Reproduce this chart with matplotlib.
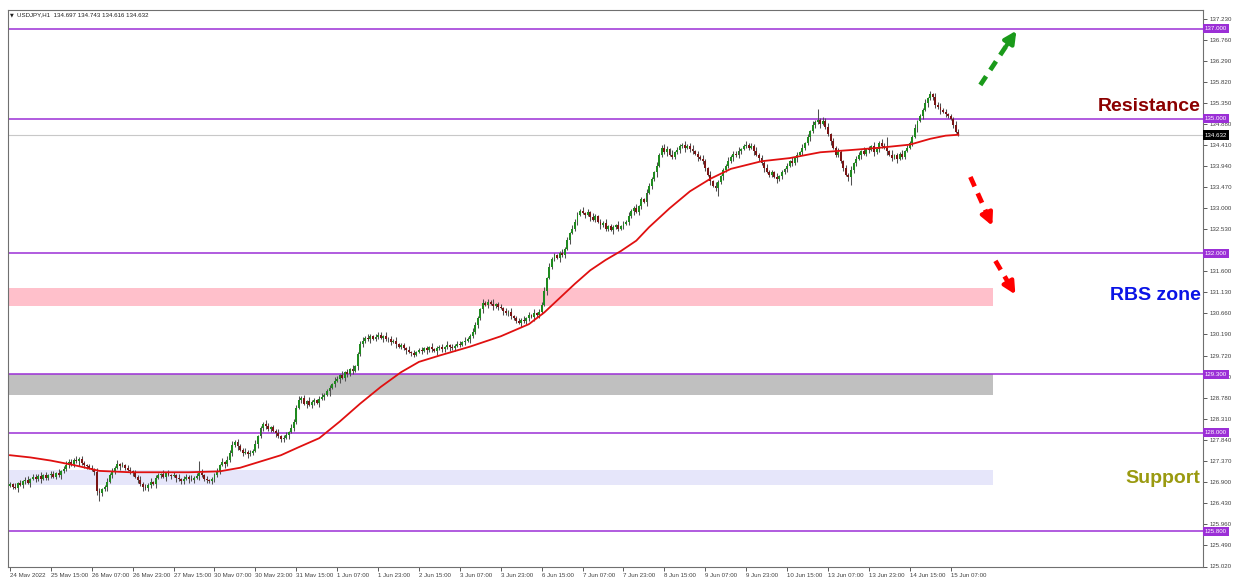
import matplotlib
matplotlib.use("Agg")
import matplotlib.pyplot as plt
import numpy as np

# hourly USDJPY closes, one row per 16 bars (one row per date label)
first_open = 126.82
close_rows = [
    [126.85, 126.80, 126.78, 126.88, 126.84, 126.92, 126.95, 126.88, 126.97, 127.02, 126.96, 127.04, 126.98, 127.06, 127.00, 127.05],
    [127.08, 127.02, 127.10, 127.05, 127.14, 127.20, 127.28, 127.35, 127.30, 127.40, 127.36, 127.42, 127.32, 127.28, 127.25, 127.22],
    [127.18, 127.12, 126.70, 126.65, 126.74, 126.80, 126.90, 127.05, 127.15, 127.22, 127.30, 127.26, 127.28, 127.22, 127.18, 127.15],
    [127.10, 127.02, 126.95, 126.85, 126.80, 126.76, 126.84, 126.90, 126.86, 127.00, 127.05, 127.08, 127.02, 127.10, 127.06, 127.04],
    [127.06, 127.00, 126.96, 126.92, 126.98, 127.02, 126.97, 126.95, 127.00, 127.04, 127.10, 127.05, 126.98, 126.94, 126.92, 126.96],
    [127.05, 127.15, 127.28, 127.35, 127.30, 127.40, 127.55, 127.72, 127.80, 127.70, 127.62, 127.55, 127.58, 127.52, 127.56, 127.60],
    [127.75, 127.92, 128.10, 128.20, 128.15, 128.08, 128.12, 128.05, 128.00, 127.92, 127.85, 127.88, 127.95, 128.02, 128.10, 128.25],
    [128.55, 128.72, 128.78, 128.65, 128.70, 128.62, 128.68, 128.72, 128.66, 128.75, 128.80, 128.85, 128.92, 129.00, 129.08, 129.15],
    [129.20, 129.28, 129.22, 129.35, 129.30, 129.42, 129.38, 129.48, 129.75, 129.98, 130.05, 130.12, 130.08, 130.15, 130.10, 130.14],
    [130.18, 130.12, 130.15, 130.08, 130.10, 130.02, 130.05, 129.98, 129.92, 129.95, 129.88, 129.85, 129.80, 129.78, 129.74, 129.80],
    [129.85, 129.82, 129.88, 129.84, 129.90, 129.86, 129.82, 129.88, 129.92, 129.86, 129.90, 129.95, 129.92, 129.88, 129.94, 129.98],
    [129.96, 130.02, 130.05, 130.10, 130.15, 130.25, 130.40, 130.55, 130.75, 130.90, 130.85, 130.92, 130.88, 130.82, 130.86, 130.80],
    [130.78, 130.72, 130.66, 130.70, 130.60, 130.55, 130.50, 130.45, 130.52, 130.48, 130.55, 130.62, 130.58, 130.66, 130.62, 130.70],
    [130.85, 131.15, 131.45, 131.70, 131.88, 131.95, 131.90, 132.00, 131.95, 132.10, 132.30, 132.45, 132.55, 132.70, 132.85, 132.95],
    [132.90, 132.85, 132.92, 132.80, 132.75, 132.82, 132.70, 132.62, 132.68, 132.55, 132.60, 132.52, 132.58, 132.62, 132.55, 132.60],
    [132.65, 132.70, 132.82, 132.95, 133.00, 132.92, 133.05, 133.20, 133.15, 133.35, 133.50, 133.65, 133.80, 133.95, 134.20, 134.35],
    [134.25, 134.32, 134.20, 134.15, 134.25, 134.30, 134.38, 134.42, 134.35, 134.40, 134.32, 134.28, 134.22, 134.15, 134.10, 134.05],
    [133.90, 133.75, 133.60, 133.50, 133.45, 133.58, 133.72, 133.85, 133.95, 134.05, 134.15, 134.22, 134.18, 134.28, 134.32, 134.38],
    [134.42, 134.35, 134.40, 134.28, 134.20, 134.12, 134.00, 133.90, 133.82, 133.75, 133.80, 133.70, 133.65, 133.72, 133.80, 133.88],
    [133.95, 134.05, 134.00, 134.12, 134.20, 134.25, 134.35, 134.45, 134.60, 134.72, 134.85, 134.92, 134.98, 134.88, 134.95, 134.82],
    [134.65, 134.50, 134.35, 134.20, 134.25, 134.05, 133.90, 133.75, 133.70, 133.85, 134.00, 134.10, 134.20, 134.28, 134.22, 134.32],
    [134.30, 134.38, 134.25, 134.32, 134.45, 134.40, 134.35, 134.28, 134.20, 134.12, 134.18, 134.10, 134.22, 134.15, 134.28, 134.35],
    [134.45, 134.60, 134.80, 134.95, 135.05, 135.20, 135.35, 135.45, 135.55, 135.48, 135.30, 135.25, 135.20, 135.15, 135.10, 135.05],
    [135.00, 134.85, 134.70, 134.632],
]
# wick lengths in units of wick_unit, one digit per bar
wick_unit = 0.03
upper_rows = [
    "2131212312213121", "2213123221312212", "2132113221312122", "1213221312213121",
    "2131221312931212", "2213132312213121", "3121321213122132", "2312132212312213",
    "2131213122313212", "2213121312213121", "1212131212131212", "2131232213121312",
    "2121312213121312", "2313121231213221", "3121321213122131", "2131231213221312",
    "3213122131231213", "2131321213122312", "3121312231213121", "2131213121328132",
    "3121321213122131", "2131232813121312", "2131213121323121", "2132",
]
lower_rows = [
    "1213122131213122", "2121312212131221", "1236213122131212", "2121312213121312",
    "1312213121312212", "2121312213121312", "1312212131221312", "2121312213121312",
    "1312212131221312", "2131221312131221", "1213121312213121", "2121312213121312",
    "1312212131221312", "2131221312131221", "1213121312213121", "2121312213121312",
    "1312212131221312", "2131261312131221", "1213121312213121", "2121312213121312",
    "1312212136221312", "2131221312131221", "1213121312213121", "1211",
]

# red moving average, read at a number of bars
ma_bars = [0, 8, 16, 25, 35, 47, 59, 70, 82, 90, 98, 106, 113, 121, 129, 137, 145, 153,
           160, 168, 180, 192, 203, 209, 215, 221, 227, 233, 239, 245, 250, 258, 266,
           274, 282, 294, 305, 317, 329, 340, 352, 360, 366, 371]
ma_vals = [127.50, 127.45, 127.38, 127.28, 127.15, 127.12, 127.12, 127.12, 127.14, 127.22,
           127.36, 127.50, 127.68, 127.88, 128.25, 128.65, 129.02, 129.35, 129.58, 129.72,
           129.92, 130.15, 130.42, 130.68, 131.00, 131.32, 131.62, 131.85, 132.05, 132.28,
           132.58, 133.00, 133.38, 133.66, 133.88, 134.05, 134.12, 134.25, 134.30, 134.35,
           134.42, 134.55, 134.62, 134.64]

x_labels = ["24 May 2022", "25 May 15:00", "26 May 07:00", "26 May 23:00", "27 May 15:00",
            "30 May 07:00", "30 May 23:00", "31 May 15:00", "1 Jun 07:00", "1 Jun 23:00",
            "2 Jun 15:00", "3 Jun 07:00", "3 Jun 23:00", "6 Jun 15:00", "7 Jun 07:00",
            "7 Jun 23:00", "8 Jun 15:00", "9 Jun 07:00", "9 Jun 23:00", "10 Jun 15:00",
            "13 Jun 07:00", "13 Jun 23:00", "14 Jun 15:00", "15 Jun 07:00"]
bars_per_label = 16

y_ticks = [137.230, 136.760, 136.290, 135.820, 135.350, 134.880, 134.410, 133.940, 133.470,
           133.000, 132.530, 132.060, 131.600, 131.130, 130.660, 130.190, 129.720, 129.250,
           128.780, 128.310, 127.840, 127.370, 126.900, 126.430, 125.960, 125.490, 125.020]
# tick labels hidden behind the level boxes
y_hidden = [132.060]

levels = [137.000, 135.000, 132.000, 129.300, 128.000, 125.800]
last_price = 134.632

zone_low = [130.83, 128.85, 126.83]
zone_high = [131.23, 129.30, 127.16]
zone_colors = ["#ffc0cb", "#c0c0c0", "#e6e6fa"]
zone_end = 384.6

# ---- build candles
closes = np.array([c for row in close_rows for c in row])
upper = np.array([int(d) for row in upper_rows for d in row]) * wick_unit
lower = np.array([int(d) for row in lower_rows for d in row]) * wick_unit
opens = np.concatenate([[first_open], closes[:-1]])
highs = np.maximum(opens, closes) + upper
lows = np.minimum(opens, closes) - lower
x = np.arange(len(closes))
bull = closes >= opens

fig = plt.figure(figsize=(12.41, 5.77), dpi=100)
ax = fig.add_axes([8 / 1241, 1 - 566.5 / 577, 1195 / 1241, 556.5 / 577])
ax.set_xlim(-0.78, 466.7)
ax.set_ylim(125.03, 137.42)

purple = "#9b2fd6"
for lo, hi, col in zip(zone_low, zone_high, zone_colors):
    ax.fill_between([-1, zone_end], lo, hi, color=col, lw=0, zorder=1)
for lv in levels:
    ax.axhline(lv, color=purple, lw=1.1, zorder=2)
ax.axhline(last_price, color="#c8c8c8", lw=0.8, zorder=1.5)

ax.vlines(x, lows, highs, color="#505050", lw=0.75, zorder=3)
body_h = np.maximum(np.abs(closes - opens), 0.015)
body_b = np.minimum(opens, closes)
ax.bar(x[bull], body_h[bull], bottom=body_b[bull], width=0.75, color="#1f8a1f", lw=0, zorder=4)
ax.bar(x[~bull], body_h[~bull], bottom=body_b[~bull], width=0.75, color="#7a1515", lw=0, zorder=4)

ax.plot(ma_bars, ma_vals, color="#e01010", lw=1.3, zorder=5)

# arrows
def dashed_arrow(x0, y0, x1, y1, col, style):
    xm = x0 + (x1 - x0) * 0.72
    ym = y0 + (y1 - y0) * 0.72
    ax.plot([x0, xm], [y0, ym], color=col, lw=3.4, ls=(0, (2.2, 1.6)), solid_capstyle="butt", zorder=6)
    ax.annotate("", xy=(x1, y1), xytext=(xm, ym),
                arrowprops=dict(arrowstyle=style, color=col, lw=3, mutation_scale=18,
                                shrinkA=0, shrinkB=0), zorder=6)

dashed_arrow(379.6, 135.75, 393.7, 136.96, "#1a9a1a", "-|>")
dashed_arrow(375.7, 133.70, 384.3, 132.61, "#ff0000", "-|>")
dashed_arrow(385.5, 131.83, 393.3, 131.08, "#ff0000", "-|>")

yt = ax.get_yaxis_transform()
ax.text(0.998, 135.28, "Resistance", transform=yt, ha="right", va="center",
        fontsize=14, fontweight="bold", color="#8b0000", family="Liberation Sans", zorder=7)
ax.text(0.998, 131.05, "RBS zone", transform=yt, ha="right", va="center",
        fontsize=14, fontweight="bold", color="#0a14e6", family="Liberation Sans", zorder=7)
ax.text(0.998, 126.98, "Support", transform=yt, ha="right", va="center",
        fontsize=14, fontweight="bold", color="#9a9a10", family="Liberation Sans", zorder=7)

# axes styling
ax.yaxis.tick_right()
ax.set_yticks(y_ticks)
ax.set_yticklabels(["" if v in y_hidden else f"{v:.3f}" for v in y_ticks])
ax.set_xticks([i * bars_per_label for i in range(len(x_labels))])
ax.set_xticklabels(x_labels, ha="left")
ax.tick_params(axis="both", labelsize=4.4, colors="#404040", length=3, width=0.6, pad=1.5)
for lab in ax.get_xticklabels() + ax.get_yticklabels():
    lab.set_family("Liberation Sans")
for s in ax.spines.values():
    s.set_color("#707070")
    s.set_linewidth(0.8)

# price boxes on the right axis
for lv in levels:
    ax.text(1.0015, lv, f"{lv:.3f}", transform=yt, ha="left", va="center", fontsize=4.4,
            color="white", family="Liberation Sans", clip_on=False, zorder=8,
            bbox=dict(boxstyle="square,pad=0.35", fc=purple, ec="none"))
ax.text(1.0015, last_price, f"{last_price:.3f}", transform=yt, ha="left", va="center",
        fontsize=4.4, color="white", family="Liberation Sans", clip_on=False, zorder=8,
        bbox=dict(boxstyle="square,pad=0.35", fc="black", ec="none"))

fig.text(10 / 1241, 1 - 15 / 577, "\u25bc", fontsize=3.5, va="center", color="#202020")
fig.text(17 / 1241, 1 - 15 / 577, "USDJPY,H1  134.697 134.743 134.616 134.632",
         fontsize=4.4, va="center", color="#202020", family="Liberation Sans")

fig.savefig("out.png", dpi=100)
